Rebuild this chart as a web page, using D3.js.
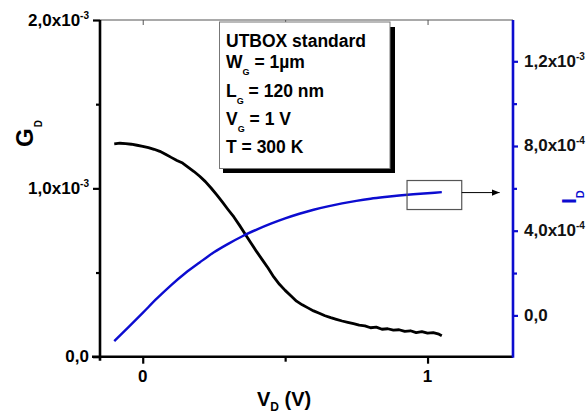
<!DOCTYPE html>
<html><head><meta charset="utf-8">
<script src="https://cdnjs.cloudflare.com/ajax/libs/d3/7.8.5/d3.min.js"></script>
<style>
html,body{margin:0;padding:0;background:#fff;}
svg{display:block;font-family:"Liberation Sans",Arial,sans-serif;font-weight:bold;}
</style></head><body>
<svg id="chart" width="587" height="416"></svg>
<script>
// ---- data ----
const vdG = [-0.10,-0.08,-0.06,-0.04,-0.02,0.00,0.02,0.04,0.06,0.08,0.10,0.12,0.14,0.16,0.18,0.20,0.22,0.24,0.26,0.28,0.30,0.32,0.34,0.36,0.38,0.40,0.42,0.44,0.46,0.48,0.50,0.52,0.54,0.56,0.58,0.60,0.62,0.64,0.66,0.68,0.70,0.72,0.74,0.76,0.78,0.80,0.82,0.84,0.86,0.88,0.90,0.92,0.94,0.96,0.98,1.00,1.02,1.04,1.05];
const gdValues = [1.264,1.268,1.266,1.262,1.256,1.250,1.242,1.232,1.220,1.203,1.184,1.166,1.150,1.125,1.100,1.072,1.040,1.002,0.961,0.918,0.873,0.830,0.780,0.728,0.676,0.624,0.575,0.527,0.474,0.430,0.394,0.362,0.330,0.308,0.290,0.272,0.258,0.243,0.232,0.222,0.212,0.204,0.196,0.187,0.183,0.172,0.176,0.163,0.166,0.158,0.160,0.150,0.154,0.143,0.149,0.140,0.143,0.134,0.125].map(d=>d*1e-3);
const vdI = [-0.10,-0.05,0.00,0.05,0.10,0.15,0.20,0.25,0.30,0.35,0.40,0.45,0.50,0.55,0.60,0.65,0.70,0.75,0.80,0.85,0.90,0.95,1.00,1.05];
const idValues = [-1.21,-0.55,0.12,0.80,1.43,2.00,2.50,2.98,3.38,3.74,4.05,4.33,4.58,4.80,4.99,5.15,5.29,5.41,5.51,5.59,5.66,5.72,5.77,5.82].map(d=>d*1e-4);
const xTicks = [0, 1];
const xMinorTicks = [0.5];
const gTicks = [0, 1e-3, 2e-3];
const gTickMain = ["0,0", "1,0x10", "2,0x10"];
const gTickSup = ["", "-3", "-3"];
const gMinorTicks = [0.5e-3, 1.5e-3];
const iTicks = [0, 4e-4, 8e-4, 1.2e-3];
const iTickMain = ["0,0", "4,0x10", "8,0x10", "1,2x10"];
const iTickSup = ["", "-4", "-4", "-3"];
const iMinorTicks = [2e-4, 6e-4, 1.0e-3];
const legendLines = [["UTBOX standard","",""],["W","G"," = 1µm"],["L","G"," = 120 nm"],["V","G"," = 1 V"],["T = 300 K","",""]];

// ---- layout ----
const L = 100, R = 513, T = 20, B = 356.7;
const blue = "#0c0cd0";
const svg = d3.select("#chart");
const x = d3.scaleLinear().domain([-0.15, 1.3]).range([L, R]);
const yG = d3.scaleLinear().domain([0, 2e-3]).range([B, T]);
const yI = d3.scaleLinear().domain([-1.95e-4, 1.395e-3]).range([B, T]);

// top axis (thin, inward ticks)
svg.append("g").attr("transform",`translate(0,${T})`)
  .call(d3.axisTop(x).tickValues(xTicks.concat(xMinorTicks)).tickSize(-5).tickFormat(""))
  .call(g=>{g.select(".domain").attr("stroke","#555").attr("stroke-width",1.2).attr("d",`M${L},0H${R}`);
            g.selectAll("line").attr("stroke","#555").attr("stroke-width",1);});

// bottom axis
svg.append("g").attr("transform",`translate(0,${B})`)
  .call(d3.axisBottom(x).tickValues(xTicks).tickSize(7).tickFormat(""))
  .call(g=>{g.select(".domain").attr("stroke","#000").attr("stroke-width",2.6).attr("d",`M${L-8},0H${R}`);
            g.selectAll("line").attr("stroke","#000").attr("stroke-width",2.2);});
svg.append("g").attr("transform",`translate(0,${B})`)
  .call(d3.axisBottom(x).tickValues(xMinorTicks).tickSize(5).tickFormat(""))
  .call(g=>{g.select(".domain").remove(); g.selectAll("line").attr("stroke","#000").attr("stroke-width",2.2);});
svg.append("g").selectAll("text").data(xTicks).join("text")
  .attr("x", d=>x(d)).attr("y", 382).attr("text-anchor","middle")
  .attr("font-size",17).text(d=>String(d));

// left axis
svg.append("g").attr("transform",`translate(${L},0)`)
  .call(d3.axisLeft(yG).tickValues(gTicks).tickSize(7).tickFormat(""))
  .call(g=>{g.select(".domain").attr("stroke","#000").attr("stroke-width",2.6).attr("d",`M0,${T}V${B+4}`);
            g.selectAll("line").attr("stroke","#000").attr("stroke-width",2.2);});
svg.append("g").attr("transform",`translate(${L},0)`)
  .call(d3.axisLeft(yG).tickValues(gMinorTicks).tickSize(4).tickFormat(""))
  .call(g=>{g.select(".domain").remove(); g.selectAll("line").attr("stroke","#000").attr("stroke-width",2.2);});
const gl = svg.append("g").selectAll("text").data(gTicks).join("text")
  .attr("x", 89).attr("y", d=>yG(d)+5.5).attr("text-anchor","end").attr("font-size",17);
gl.append("tspan").text((d,i)=>gTickMain[i]);
gl.append("tspan").attr("font-size",10).attr("dy",-7).text((d,i)=>gTickSup[i]);

// right axis
svg.append("g").attr("transform",`translate(${R},0)`)
  .call(d3.axisRight(yI).tickValues(iTicks).tickSize(5).tickFormat(""))
  .call(g=>{g.select(".domain").attr("stroke",blue).attr("stroke-width",2.6).attr("d",`M0,${T}V${B+1}`);
            g.selectAll("line").attr("stroke",blue).attr("stroke-width",2.2);});
svg.append("g").attr("transform",`translate(${R},0)`)
  .call(d3.axisRight(yI).tickValues(iMinorTicks).tickSize(4).tickFormat(""))
  .call(g=>{g.select(".domain").remove(); g.selectAll("line").attr("stroke",blue).attr("stroke-width",2.2);});
const il = svg.append("g").selectAll("text").data(iTicks).join("text")
  .attr("x", 524).attr("y", d=>yI(d)+5.5).attr("text-anchor","start").attr("font-size",17).attr("fill","#111");
il.append("tspan").text((d,i)=>iTickMain[i]);
il.append("tspan").attr("font-size",10).attr("dy",-7).text((d,i)=>iTickSup[i]);

// axis titles
const yt = svg.append("text").attr("transform","translate(33,147) rotate(-90)").attr("font-size",24);
yt.append("tspan").text("G");
yt.append("tspan").attr("font-size",10).attr("dy",9).attr("dx",1).text("D");
const yt2 = svg.append("text").attr("transform","translate(576,204) rotate(-90)").attr("font-size",21).attr("fill",blue);
yt2.append("tspan").text("I");
yt2.append("tspan").attr("font-size",11).attr("dy",8).text("D");
const xt = svg.append("text").attr("x",257).attr("y",406).attr("font-size",20);
xt.append("tspan").text("V");
xt.append("tspan").attr("font-size",12).attr("dy",5).text("D");
xt.append("tspan").attr("dy",-5).text(" (V)");

// curves
const lineG = d3.line().x((d,i)=>x(vdG[i])).y(d=>yG(d)).curve(d3.curveLinear);
svg.append("path").attr("d", lineG(gdValues)).attr("fill","none").attr("stroke","#000").attr("stroke-width",2.8).attr("stroke-linejoin","round");
const lineI = d3.line().x((d,i)=>x(vdI[i])).y(d=>yI(d)).curve(d3.curveMonotoneX);
svg.append("path").attr("d", lineI(idValues)).attr("fill","none").attr("stroke",blue).attr("stroke-width",2.4);

// legend box with shadow
svg.append("rect").attr("x",223).attr("y",27).attr("width",172).attr("height",146).attr("fill","#000");
svg.append("rect").attr("x",219.5).attr("y",22).attr("width",170.5).attr("height",146.5).attr("fill","#fff").attr("stroke","#777").attr("stroke-width",1);
const baselines = [47, 68, 97, 125, 153];
legendLines.forEach((ln,i)=>{
  const t = svg.append("text").attr("x",226).attr("y",baselines[i]).attr("font-size",17.5);
  t.append("tspan").text(ln[0]);
  if (ln[1]) {
    t.append("tspan").attr("font-size",9).attr("dy",7).text(ln[1]);
    t.append("tspan").attr("dy",-7).text(ln[2]);
  }
});

// zoom rectangle + arrow
svg.append("defs").append("marker").attr("id","arr").attr("viewBox","0 0 10 10").attr("refX",10).attr("refY",5)
  .attr("markerWidth",8).attr("markerHeight",8).attr("markerUnits","userSpaceOnUse").attr("orient","auto")
  .append("path").attr("d","M0,1L10,5L0,9Z").attr("fill","#000");
const zx0 = x(0.928), zx1 = x(1.12), zy0 = yI(6.37e-4), zy1 = yI(5.0e-4);
svg.append("rect").attr("x",zx0).attr("y",zy0).attr("width",zx1-zx0).attr("height",zy1-zy0)
  .attr("fill","none").attr("stroke","#555").attr("stroke-width",1.2);
svg.append("line").attr("x1",zx1).attr("x2",x(1.253)).attr("y1",yI(5.8e-4)).attr("y2",yI(5.8e-4))
  .attr("stroke","#000").attr("stroke-width",1).attr("marker-end","url(#arr)");
</script>
</body></html>
